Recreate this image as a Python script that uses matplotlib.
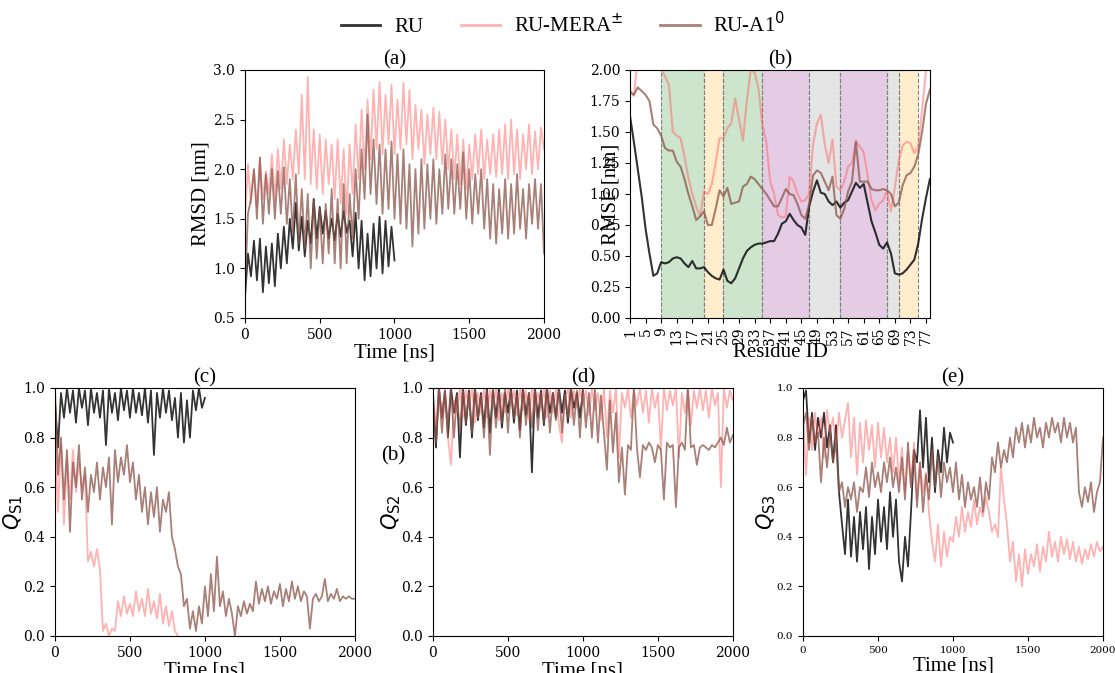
import numpy as np
import matplotlib
matplotlib.use("Agg")
import matplotlib.pyplot as plt

# ---------------- data ----------------
series_names = ["RU", "RU-MERA$^{\\pm}$", "RU-A1$^{0}$"]

t_full = np.arange(0, 2001, 20)
t_half = np.arange(0, 1001, 20)
t_mera_c = np.arange(0, 821, 20)

rmsd_ru = [0.70, 1.15, 0.92, 1.28, 0.88, 1.30, 0.76, 1.22, 0.85, 1.25,
           0.82, 1.35, 1.00, 1.42, 1.05, 1.50, 1.20, 1.66, 1.18, 1.52,
           1.12, 1.48, 1.25, 1.70, 1.30, 1.62, 1.35, 1.58, 1.30, 1.50,
           1.28, 1.55, 1.32, 1.58, 1.36, 1.48, 1.12, 1.56, 1.00, 1.48,
           0.88, 1.35, 0.92, 1.45, 1.00, 1.52, 0.95, 1.48, 1.02, 1.42,
           1.08]
rmsd_mera = [1.50, 2.05, 1.65, 2.00, 1.62, 2.10, 1.70, 1.98, 1.75, 2.15,
             1.68, 2.20, 1.80, 2.30, 1.85, 2.25, 1.90, 2.40, 1.95, 2.75,
             1.90, 2.93, 1.85, 2.40, 1.80, 2.35, 1.75, 2.30, 1.85, 2.25,
             1.70, 2.30, 1.65, 2.20, 1.55, 2.25, 1.75, 2.45, 1.90, 2.60,
             2.00, 2.70, 2.10, 2.80, 2.20, 2.88, 2.15, 2.75, 2.25, 2.85,
             2.15, 2.70, 2.20, 2.87, 2.25, 2.80, 2.10, 2.65, 2.20, 2.60,
             2.05, 2.55, 2.15, 2.62, 2.10, 2.58, 2.05, 2.50, 2.00, 2.40,
             1.90, 2.35, 1.85, 2.30, 1.80, 2.25, 1.90, 2.35, 1.95, 2.40,
             1.90, 2.30, 1.95, 2.35, 1.92, 2.40, 1.95, 2.45, 1.90, 2.50,
             1.95, 2.40, 1.90, 2.35, 2.00, 2.45, 1.95, 2.38, 2.00, 2.42,
             2.20]
rmsd_a1 = [0.78, 1.55, 1.70, 2.00, 1.50, 2.12, 1.45, 1.95, 1.55, 2.00,
           1.50, 1.98, 1.55, 2.02, 1.45, 1.90, 1.35, 1.95, 1.25, 1.80,
           1.20, 1.75, 1.00, 1.70, 1.10, 1.60, 1.05, 1.65, 1.15, 1.80,
           1.05, 1.70, 1.00, 1.85, 1.05, 1.75, 1.30, 2.00, 1.50, 2.20,
           1.70, 2.55, 1.75, 2.30, 1.65, 2.25, 1.55, 2.20, 1.60, 2.28,
           1.50, 2.15, 1.45, 2.20, 1.40, 2.05, 1.22, 2.00, 1.35, 2.10,
           1.40, 2.05, 1.50, 2.10, 1.45, 2.00, 1.55, 2.15, 1.60, 2.10,
           1.55, 2.05, 1.60, 2.17, 1.50, 2.00, 1.45, 1.95, 1.55, 2.00,
           1.40, 1.90, 1.30, 1.85, 1.25, 1.80, 1.35, 1.90, 1.30, 1.85,
           1.35, 1.95, 1.40, 1.80, 1.30, 1.85, 1.45, 1.90, 1.40, 1.85,
           1.15]

residues = np.arange(1, 79)
rmsf_ru = [1.63, 1.42, 1.20, 0.98, 0.72, 0.52, 0.34, 0.36, 0.45, 0.44,
           0.45, 0.48, 0.49, 0.48, 0.44, 0.41, 0.46, 0.40, 0.40, 0.41,
           0.37, 0.34, 0.32, 0.31, 0.39, 0.30, 0.28, 0.32, 0.40, 0.48,
           0.54, 0.57, 0.59, 0.60, 0.60, 0.61, 0.62, 0.62, 0.68, 0.76,
           0.78, 0.84, 0.79, 0.75, 0.73, 0.67, 0.90, 1.02, 1.11, 1.01,
           1.00, 0.94, 0.91, 0.94, 0.89, 0.93, 0.95, 1.02, 1.09, 1.05,
           1.08, 0.93, 0.78, 0.69, 0.59, 0.56, 0.61, 0.52, 0.36, 0.35,
           0.36, 0.39, 0.43, 0.47, 0.60, 0.80, 0.97, 1.12]
rmsf_mera = [1.84, 1.79, 2.10, 2.30, 2.40, 2.40, 2.30, 2.15, 2.00, 1.95,
             1.88, 1.50, 1.47, 1.45, 1.30, 1.13, 1.00, 0.90, 0.82, 1.02,
             1.00, 1.08, 1.25, 1.45, 1.45, 1.53, 1.57, 1.77, 1.60, 1.43,
             1.75, 2.00, 1.98, 1.85, 1.55, 1.42, 1.10, 1.00, 0.83, 0.81,
             0.82, 1.14, 1.10, 1.00, 0.94, 0.95, 1.00, 1.40, 1.57, 1.64,
             1.40, 1.25, 1.44, 1.06, 1.03, 1.10, 1.22, 1.25, 1.43, 1.38,
             1.34, 1.15, 0.95, 0.87, 0.92, 0.95, 1.03, 0.86, 1.05, 1.27,
             1.39, 1.42, 1.41, 1.33, 1.38, 1.68, 2.00, 2.10]
rmsf_a1 = [1.82, 1.80, 1.86, 1.83, 1.80, 1.75, 1.56, 1.53, 1.47, 1.37,
           1.35, 1.35, 1.26, 1.22, 1.12, 1.00, 0.90, 0.79, 0.82, 0.86,
           0.75, 0.75, 0.88, 1.03, 0.98, 1.05, 0.92, 0.93, 0.94, 1.06,
           1.08, 1.14, 1.12, 1.08, 1.04, 1.00, 0.95, 0.90, 0.90, 0.97,
           1.04, 1.00, 0.99, 0.92, 0.83, 0.80, 0.92, 1.15, 1.19, 1.17,
           1.10, 1.03, 1.14, 0.83, 0.80, 0.88, 1.02, 1.10, 1.42, 1.10,
           1.10, 1.10, 1.04, 1.03, 1.03, 1.04, 1.03, 1.00, 0.90, 0.93,
           1.07, 1.15, 1.17, 1.22, 1.32, 1.50, 1.73, 1.84]

region_edges = [(9, 20), (20, 25), (25, 35), (35, 47), (47, 55), (55, 67), (67, 70), (70, 75)]
region_colors = ["green", "orange", "green", "purple", "gray", "purple", "gray", "orange"]
rmsf_ticks = list(range(1, 78, 4))

qs1_ru = [0.95, 0.76, 0.98, 0.88, 1.00, 0.90, 0.99, 0.86, 1.00, 0.92,
          0.99, 0.85, 1.00, 0.90, 0.98, 0.88, 0.99, 0.77, 1.00, 0.90,
          0.98, 0.87, 1.00, 0.91, 0.99, 0.88, 1.00, 0.90, 0.98, 0.89,
          1.00, 0.86, 0.99, 0.73, 0.98, 0.88, 1.00, 0.90, 0.99, 0.87,
          0.96, 0.80, 0.98, 0.78, 0.95, 0.80, 0.99, 0.91, 1.00, 0.92,
          0.96]
qs1_mera = [0.85, 0.50, 0.78, 0.45, 0.72, 0.55, 0.75, 0.58, 0.70, 0.60,
            0.65, 0.30, 0.34, 0.28, 0.35, 0.27, 0.02, 0.05, 0.00, 0.03,
            0.02, 0.14, 0.08, 0.16, 0.09, 0.13, 0.08, 0.18, 0.10, 0.15,
            0.08, 0.19, 0.09, 0.14, 0.07, 0.17, 0.05, 0.12, 0.04, 0.10,
            0.02, 0.00]
qs1_a1 = [1.00, 0.65, 0.80, 0.55, 0.75, 0.42, 0.70, 0.60, 0.77, 0.55,
          0.68, 0.50, 0.65, 0.58, 0.70, 0.55, 0.68, 0.60, 0.72, 0.45,
          0.75, 0.62, 0.72, 0.65, 0.77, 0.62, 0.70, 0.55, 0.65, 0.50,
          0.60, 0.45, 0.58, 0.48, 0.60, 0.42, 0.55, 0.50, 0.58, 0.40,
          0.35, 0.28, 0.25, 0.12, 0.15, 0.03, 0.10, 0.02, 0.12, 0.05,
          0.20, 0.08, 0.25, 0.10, 0.32, 0.12, 0.18, 0.08, 0.15, 0.09,
          0.00, 0.12, 0.08, 0.14, 0.09, 0.13, 0.10, 0.22, 0.13, 0.19,
          0.14, 0.20, 0.13, 0.18, 0.15, 0.21, 0.12, 0.19, 0.14, 0.22,
          0.15, 0.20, 0.14, 0.18, 0.16, 0.03, 0.15, 0.17, 0.14, 0.16,
          0.23, 0.14, 0.17, 0.15, 0.19, 0.14, 0.16, 0.15, 0.16, 0.15,
          0.15]

qs2_ru = [0.98, 0.76, 1.00, 0.88, 0.99, 0.80, 1.00, 0.90, 0.98, 0.72,
          1.00, 0.85, 0.99, 0.80, 1.00, 0.87, 0.98, 0.84, 1.00, 0.82,
          0.99, 0.88, 1.00, 0.84, 0.98, 0.90, 1.00, 0.86, 0.99, 0.83,
          1.00, 0.89, 0.98, 0.66, 1.00, 0.88, 0.99, 0.85, 1.00, 0.90,
          0.98, 0.88, 1.00, 0.90, 0.99, 0.86, 1.00, 0.92, 0.98, 0.88,
          0.99]
qs2_mera = [0.95, 0.85, 1.00, 0.88, 0.99, 0.80, 0.69, 0.95, 0.90, 1.00,
            0.88, 0.99, 0.92, 1.00, 0.86, 0.98, 0.90, 1.00, 0.88, 0.99,
            0.92, 1.00, 0.87, 0.98, 0.90, 1.00, 0.93, 0.99, 0.89, 1.00,
            0.91, 0.99, 0.87, 1.00, 0.90, 0.98, 0.92, 1.00, 0.88, 0.99,
            0.90, 1.00, 0.85, 0.78, 0.95, 1.00, 0.88, 0.99, 0.92, 1.00,
            0.93, 0.99, 0.89, 1.00, 0.91, 0.98, 0.87, 1.00, 0.80, 0.99,
            0.90, 1.00, 0.72, 0.98, 0.92, 1.00, 0.88, 0.99, 0.93, 1.00,
            0.90, 0.99, 0.86, 1.00, 0.92, 0.98, 0.75, 1.00, 0.91, 0.99,
            0.93, 1.00, 0.72, 0.98, 0.90, 1.00, 0.85, 0.99, 0.92, 1.00,
            0.91, 0.99, 0.88, 1.00, 0.93, 0.98, 0.60, 1.00, 0.92, 0.99,
            0.95]
qs2_a1 = [0.92, 0.78, 1.00, 0.82, 0.98, 0.85, 1.00, 0.80, 0.97, 0.83,
          1.00, 0.86, 0.98, 0.82, 1.00, 0.88, 0.97, 0.80, 0.99, 0.73,
          1.00, 0.84, 0.98, 0.86, 1.00, 0.82, 0.99, 0.88, 0.97, 0.80,
          1.00, 0.85, 0.98, 0.84, 1.00, 0.83, 0.98, 0.86, 1.00, 0.82,
          0.98, 0.87, 1.00, 0.82, 0.97, 0.88, 1.00, 0.85, 0.99, 0.80,
          1.00, 0.84, 0.98, 0.80, 1.00, 0.78, 0.97, 0.82, 0.67, 0.95,
          0.74, 0.90, 0.62, 0.76, 0.57, 0.77, 0.75, 1.00, 0.76, 0.64,
          0.77, 0.75, 0.78, 0.76, 0.70, 0.77, 0.75, 0.55, 0.78, 0.76,
          0.77, 0.52, 0.76, 0.78, 0.75, 1.00, 0.76, 0.77, 0.69, 0.76,
          0.77, 0.76, 0.75, 0.77, 0.76, 0.78, 0.80, 0.77, 0.84, 0.78,
          0.81]

qs3_ru = [0.95, 0.99, 0.78, 0.90, 0.75, 0.88, 0.80, 0.90, 0.76, 0.85,
          0.70, 0.85, 0.58, 0.45, 0.33, 0.55, 0.32, 0.48, 0.30, 0.50,
          0.35, 0.52, 0.27, 0.48, 0.33, 0.55, 0.38, 0.52, 0.35, 0.58,
          0.40, 0.55, 0.30, 0.22, 0.40, 0.28, 0.50, 0.75, 0.70, 0.91,
          0.68, 0.88, 0.62, 0.80, 0.58, 0.75, 0.66, 0.84, 0.70, 0.82,
          0.78]
qs3_mera = [0.90, 0.65, 0.88, 0.75, 0.90, 0.80, 0.88, 0.72, 0.91, 0.82,
            0.88, 0.76, 0.90, 0.80, 0.87, 0.94, 0.72, 0.88, 0.65, 0.86,
            0.70, 0.87, 0.75, 0.85, 0.68, 0.86, 0.72, 0.84, 0.70, 0.80,
            0.66, 0.80, 0.62, 0.76, 0.58, 0.74, 0.60, 0.78, 0.55, 0.70,
            0.58, 0.66, 0.50, 0.38, 0.30, 0.45, 0.28, 0.42, 0.32, 0.40,
            0.38, 0.48, 0.40, 0.52, 0.42, 0.50, 0.44, 0.55, 0.45, 0.52,
            0.48, 0.56, 0.50, 0.42, 0.45, 0.40, 0.68, 0.55, 0.45, 0.30,
            0.38, 0.22, 0.33, 0.20, 0.35, 0.25, 0.33, 0.28, 0.37, 0.26,
            0.36, 0.30, 0.42, 0.32, 0.38, 0.30, 0.40, 0.33, 0.39, 0.31,
            0.38, 0.30, 0.36, 0.29, 0.35, 0.31, 0.37, 0.32, 0.38, 0.34,
            0.36]
qs3_a1 = [0.85, 0.90, 0.75, 0.88, 0.78, 0.82, 0.62, 0.80, 0.68, 0.82,
          0.70, 0.78, 0.58, 0.62, 0.52, 0.60, 0.55, 0.62, 0.50, 0.60,
          0.58, 0.68, 0.56, 0.70, 0.60, 0.66, 0.58, 0.70, 0.62, 0.72,
          0.60, 0.68, 0.58, 0.72, 0.55, 0.78, 0.60, 0.75, 0.52, 0.70,
          0.50, 0.65, 0.55, 0.75, 0.60, 0.72, 0.56, 0.70, 0.62, 0.68,
          0.58, 0.70, 0.55, 0.65, 0.52, 0.62, 0.55, 0.60, 0.52, 0.64,
          0.50, 0.62, 0.55, 0.72, 0.66, 0.78, 0.68, 0.75, 0.70, 0.80,
          0.72, 0.84, 0.78, 0.86, 0.76, 0.85, 0.78, 0.88, 0.80, 0.84,
          0.76, 0.86, 0.80, 0.88, 0.82, 0.86, 0.78, 0.88, 0.80, 0.86,
          0.78, 0.84, 0.58, 0.52, 0.60, 0.54, 0.62, 0.50, 0.58, 0.62,
          0.80]

# ---------------- style ----------------
colors = ["#000000", "#ff6666", "#8c564b"]
alphas = [0.8, 0.5, 0.75]
label_font = "Liberation Serif"
tick_font = "DejaVu Serif"
ts_lw = 1.3

fig = plt.figure(figsize=(11.15, 6.73), dpi=100)

def style_axes(ax, tick_size=10):
    for lab in ax.get_xticklabels() + ax.get_yticklabels():
        lab.set_fontfamily(tick_font)
        lab.set_fontsize(tick_size)

def add_title(ax, s):
    ax.set_title(s, fontfamily=label_font, fontsize=15, pad=4)

# (a) RMSD
ax_a = fig.add_axes([0.2197, 0.5275, 0.2682, 0.3685])
ax_a.plot(t_half, rmsd_ru, color=colors[0], alpha=alphas[0], lw=ts_lw)
ax_a.plot(t_full, rmsd_mera, color=colors[1], alpha=alphas[1], lw=ts_lw)
ax_a.plot(t_full, rmsd_a1, color=colors[2], alpha=alphas[2], lw=ts_lw)
ax_a.set_xlim(0, 2000)
ax_a.set_ylim(0.5, 3.0)
ax_a.set_xticks([0, 500, 1000, 1500, 2000])
ax_a.set_yticks([0.5, 1.0, 1.5, 2.0, 2.5, 3.0])
ax_a.set_xlabel("Time [ns]", fontfamily=label_font, fontsize=15, labelpad=1)
ax_a.set_ylabel("RMSD [nm]", fontfamily=label_font, fontsize=15, labelpad=2)
add_title(ax_a, "(a)")
style_axes(ax_a)

# (b) RMSF
ax_b = fig.add_axes([0.565, 0.5275, 0.269, 0.3685])
for (lo, hi), c in zip(region_edges, region_colors):
    ax_b.axvspan(lo, hi, color=c, alpha=0.2, lw=0)
    ax_b.axvline(lo, color="gray", ls="--", lw=0.8)
    ax_b.axvline(hi, color="gray", ls="--", lw=0.8)
ax_b.plot(residues, rmsf_ru, color=colors[0], alpha=alphas[0], lw=1.5)
ax_b.plot(residues, rmsf_mera, color=colors[1], alpha=alphas[1], lw=1.5)
ax_b.plot(residues, rmsf_a1, color=colors[2], alpha=alphas[2], lw=1.5)
ax_b.set_xlim(1, 78)
ax_b.set_ylim(0, 2.0)
ax_b.set_xticks(rmsf_ticks)
ax_b.set_xticklabels([str(r) for r in rmsf_ticks], rotation=90)
ax_b.set_yticks(np.arange(0, 2.01, 0.25))
ax_b.set_yticklabels([f"{v:.2f}" for v in np.arange(0, 2.01, 0.25)])
ax_b.set_xlabel("Residue ID", fontfamily=label_font, fontsize=15, labelpad=-2)
ax_b.set_ylabel("RMSF [nm]", fontfamily=label_font, fontsize=15, labelpad=-22)
add_title(ax_b, "(b)")
style_axes(ax_b)

# (c)-(e) Q
q_specs = [
    (0.0493, "(c)", "$Q_{\\mathrm{S1}}$", (t_half, qs1_ru), (t_mera_c, qs1_mera), (t_full, qs1_a1), 10),
    (0.3883, "(d)", "$Q_{\\mathrm{S2}}$", (t_half, qs2_ru), (t_full, qs2_mera), (t_full, qs2_a1), 10),
    (0.7202, "(e)", "$Q_{\\mathrm{S3}}$", (t_half, qs3_ru), (t_full, qs3_mera), (t_full, qs3_a1), 7.5),
]
for left, title, ylabel, s_ru, s_mera, s_a1, tsize in q_specs:
    ax = fig.add_axes([left, 0.055, 0.269, 0.3685])
    ax.plot(*s_ru, color=colors[0], alpha=alphas[0], lw=ts_lw)
    ax.plot(*s_mera, color=colors[1], alpha=alphas[1], lw=ts_lw)
    ax.plot(*s_a1, color=colors[2], alpha=alphas[2], lw=ts_lw)
    ax.set_xlim(0, 2000)
    ax.set_ylim(0, 1.0)
    ax.set_xticks([0, 500, 1000, 1500, 2000])
    ax.set_yticks([0, 0.2, 0.4, 0.6, 0.8, 1.0])
    ax.set_yticklabels([f"{v:.1f}" for v in [0, 0.2, 0.4, 0.6, 0.8, 1.0]])
    ax.set_xlabel("Time [ns]", fontfamily=label_font, fontsize=15, labelpad=1)
    ax.set_ylabel(ylabel, fontsize=15, labelpad=-1)
    add_title(ax, title)
    style_axes(ax, tsize)

# stray panel label
fig.text(0.353, 0.322, "(b)", fontfamily=label_font, fontsize=15, ha="center", va="center")

# legend
handles = [plt.Line2D([], [], color=c, alpha=a, lw=2) for c, a in zip(colors, alphas)]
fig.legend(handles, series_names, loc="upper center", bbox_to_anchor=(0.505, 1.01),
           ncol=3, frameon=False, prop={"family": label_font, "size": 15},
           columnspacing=1.8, handlelength=1.9, handletextpad=0.65)

fig.savefig("out.png", dpi=100)
